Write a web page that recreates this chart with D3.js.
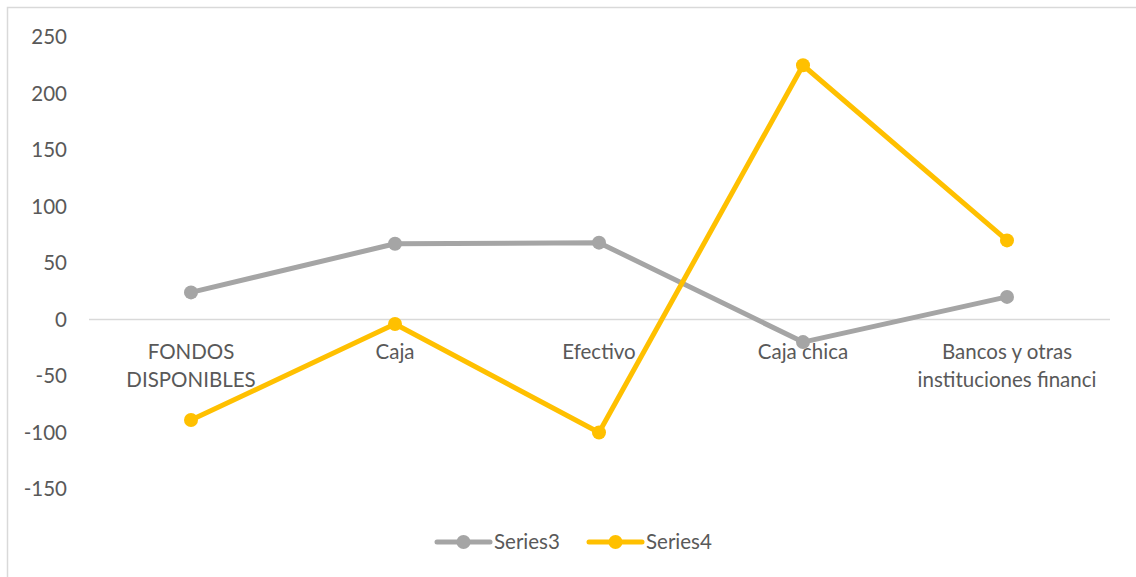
<!DOCTYPE html>
<html>
<head>
<meta charset="utf-8">
<script src="https://cdn.jsdelivr.net/npm/d3@7"></script>
<style>
  body { margin: 0; background: #fff; }
  svg { display: block; }
  text { font-family: Lato, "Open Sans", sans-serif; fill: #595959; }
</style>
</head>
<body>
<div id="chart"></div>
<script>
// data
const categories = ["FONDOS DISPONIBLES", "Caja", "Efectivo", "Caja chica", "Bancos y otras instituciones financi"];
const categoryLines = [["FONDOS", "DISPONIBLES"], ["Caja"], ["Efectivo"], ["Caja chica"], ["Bancos y otras", "instituciones financi"]];
const series3 = [24, 67, 68, -20, 20];
const series4 = [-89, -4, -100, 225, 70];
const yTicks = [-150, -100, -50, 0, 50, 100, 150, 200, 250];
const seriesNames = ["Series3", "Series4"];
const seriesColors = ["#a5a5a5", "#ffc000"];

const W = 1136, H = 577;
const fs = 20.5;

const svg = d3.select("#chart").append("svg")
    .attr("width", W)
    .attr("height", H);

// chart border
svg.append("rect")
    .attr("x", 7.5).attr("y", 7.5)
    .attr("width", W + 10).attr("height", H + 10)
    .attr("fill", "white")
    .attr("stroke", "#d9d9d9")
    .attr("stroke-width", 1.5);

const x = d3.scalePoint()
    .domain(categories)
    .range([191, 1007]);

const y = d3.scaleLinear()
    .domain([-150, 250])
    .range([489, 37]);

// y tick labels
svg.append("g").selectAll("text")
    .data(yTicks)
    .join("text")
    .attr("x", 67)
    .attr("y", d => y(d))
    .attr("dy", "0.35em")
    .attr("text-anchor", "end")
    .attr("font-size", fs)
    .text(d => d);

// zero line
svg.append("line")
    .attr("x1", 89).attr("x2", 1110)
    .attr("y1", y(0)).attr("y2", y(0))
    .attr("stroke", "#d9d9d9")
    .attr("stroke-width", 1.5);

// category labels
const cat = svg.append("g").selectAll("text")
    .data(categories)
    .join("text")
    .attr("text-anchor", "middle")
    .attr("font-size", fs)
    .attr("y", 359);
cat.each(function (d, i) {
    d3.select(this).selectAll("tspan")
        .data(categoryLines[i])
        .join("tspan")
        .attr("x", x(d))
        .attr("dy", (t, j) => j === 0 ? 0 : 28)
        .text(t => t);
});

const line = d3.line()
    .x((d, i) => x(categories[i]))
    .y(d => y(d));

[series3, series4].forEach((s, k) => {
    svg.append("path")
        .datum(s)
        .attr("d", line)
        .attr("fill", "none")
        .attr("stroke", seriesColors[k])
        .attr("stroke-width", 5)
        .attr("stroke-linejoin", "round");
    svg.append("g").selectAll("circle")
        .data(s)
        .join("circle")
        .attr("cx", (d, i) => x(categories[i]))
        .attr("cy", d => y(d))
        .attr("r", 7)
        .attr("fill", seriesColors[k]);
});

// legend
const legendX = [437, 589];
seriesNames.forEach((name, k) => {
    const g = svg.append("g").attr("transform", `translate(${legendX[k]},542)`);
    g.append("line")
        .attr("x1", 0).attr("x2", 53)
        .attr("stroke", seriesColors[k])
        .attr("stroke-width", 5)
        .attr("stroke-linecap", "round");
    g.append("circle")
        .attr("cx", 26.5).attr("r", 7)
        .attr("fill", seriesColors[k]);
    g.append("text")
        .attr("x", 57)
        .attr("dy", "0.35em")
        .attr("font-size", fs)
        .text(name);
});
</script>
</body>
</html>
